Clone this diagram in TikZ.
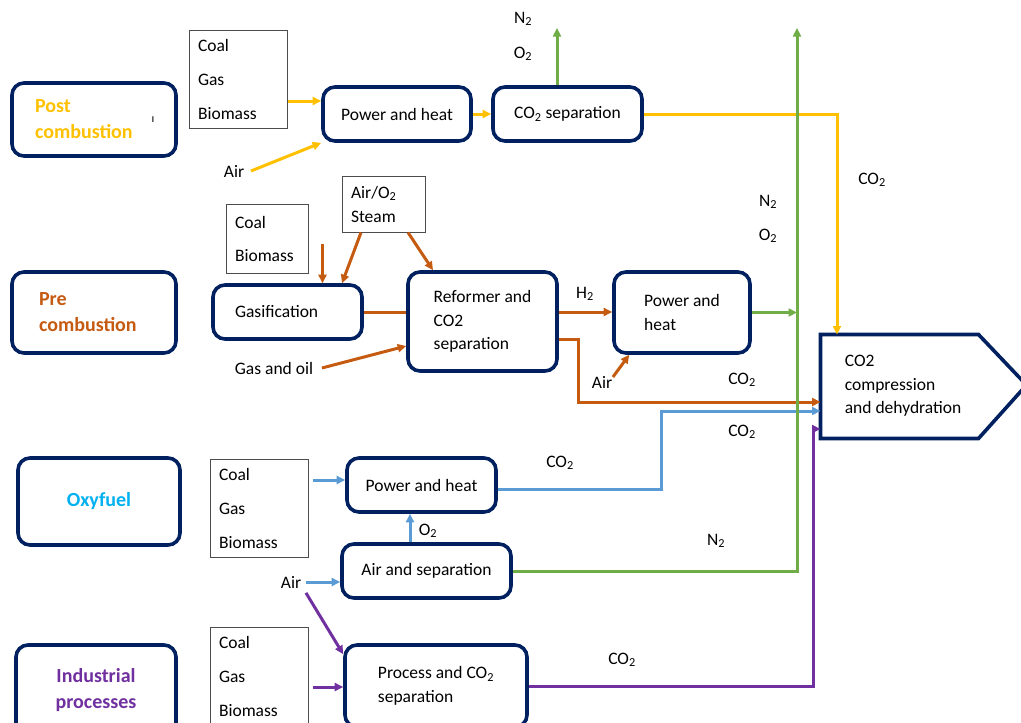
\documentclass[tikz,border=0pt]{standalone}
\usepackage{fontspec}
\setmainfont{Carlito}
\usetikzlibrary{arrows.meta}

\definecolor{navy}{HTML}{002060}
\definecolor{postc}{HTML}{FFC000}
\definecolor{prec}{HTML}{C55A11}
\definecolor{oxyc}{HTML}{00B0F0}
\definecolor{indc}{HTML}{7030A0}
\definecolor{grn}{HTML}{70AD47}
\definecolor{blu}{HTML}{5B9BD5}

\begin{document}
\begin{tikzpicture}[x=1pt,y=-1pt,>={Triangle[length=8.5pt,width=8pt]},line width=3pt,
    every node/.style={font=\fontsize{17.5}{23.5}\selectfont}]
\useasboundingbox (0,0) rectangle (1021,723);

% capture routes
\begin{scope}[every node/.append style={draw=navy,line width=3.6pt,rounded corners=12pt,font=\fontsize{20}{26}\selectfont\bfseries}]
    \node[minimum width=164pt,minimum height=73pt,text width=118pt,align=left,text=postc] (post) at (94,119.5) {Post\\combustion};
    \node[minimum width=164pt,minimum height=81pt,text width=110pt,align=left,text=prec] (pre) at (94,312.5) {Pre\\combustion};
    \node[minimum width=162pt,minimum height=87pt,align=center,text=oxyc] (oxy) at (99,501.5) {Oxyfuel};
    \node[minimum width=160pt,minimum height=90pt,align=center,text=indc] (ind) at (96,690) {Industrial\\processes};
\end{scope}
\node (stray) at (153,120) {\fontsize{12}{12}\selectfont ı};

% units
\begin{scope}[every node/.append style={draw=navy,line width=3.6pt,rounded corners=12pt,minimum height=54pt,align=left}]
    \node[minimum width=148pt] (php) at (397,114) {Power and heat};
    \node[minimum width=149pt] (sep) at (567.5,114) {CO\textsubscript{2} separation};
    \node[minimum width=149pt,text width=105pt] (gasi) at (287.5,312) {Gasification};
    \node[minimum width=149pt,minimum height=99pt] (ref) at (482.5,321.5) {Reformer and\\CO2\\separation};
    \node[minimum width=136pt,minimum height=81pt] (php2) at (682,312.5) {Power and\\heat};
    \node[minimum width=149pt] (oxph) at (421.5,485) {Power and heat};
    \node[minimum width=169pt] (asep) at (426.5,571) {Air and separation};
    \node[minimum width=182pt,minimum height=82pt] (proc) at (436,686) {Process and CO\textsubscript{2}\\separation};
\end{scope}

% compression
\node[minimum width=155pt,minimum height=101pt,inner sep=0pt] (comp) at (899.5,386.5) {};
\draw[navy,line width=3.6pt] (comp.north west) -- (comp.north east) -- ++(48,50.5) -- (comp.south east) -- (comp.south west) -- cycle;
\node[align=left,anchor=west] (comptxt) at (840,386) {CO2\\compression\\and dehydration};

% feeds
\begin{scope}[every node/.append style={draw=black!70,line width=1pt,align=left,inner xsep=9pt,font=\fontsize{17.5}{34}\selectfont}]
    \node[text width=80pt,minimum height=98pt] (fuel1) at (238,79) {Coal\\Gas\\Biomass};
    \node[text width=64pt,minimum height=69pt,font=\fontsize{17.5}{33}\selectfont] (fuel2) at (267,238.5) {Coal\\Biomass};
    \node[text width=65pt,minimum height=56pt,font=\fontsize{17.5}{24}\selectfont] (steam) at (383.5,204) {Air/O\textsubscript{2}\\Steam};
    \node[text width=80pt,minimum height=98pt] (fuel3) at (259,508) {Coal\\Gas\\Biomass};
    \node[text width=80pt,minimum height=98pt] (fuel4) at (259,676) {Coal\\Gas\\Biomass};
\end{scope}

% labels
\node (air1) at (234,171) {Air};
\node (n2a) at (523,19) {N\textsubscript{2}};
\node (o2a) at (523,54) {O\textsubscript{2}};
\node (co2a) at (872,180) {CO\textsubscript{2}};
\node (n2b) at (768,202) {N\textsubscript{2}};
\node (o2b) at (768,236) {O\textsubscript{2}};
\node (gasoil) at (274,368) {Gas and oil};
\node (h2) at (585,294) {H\textsubscript{2}};
\node (air2) at (602,382) {Air};
\node (co2b) at (742,380) {CO\textsubscript{2}};
\node (co2c) at (742,432) {CO\textsubscript{2}};
\node (co2d) at (560,463) {CO\textsubscript{2}};
\node (o2c) at (428,531) {O\textsubscript{2}};
\node (n2c) at (716,541) {N\textsubscript{2}};
\node (air3) at (291,582) {Air};
\node (co2e) at (622,660) {CO\textsubscript{2}};

\coordinate (top1) at (557,28);
\coordinate (top2) at (797,28);
\coordinate (ycol) at (837,0);

% post combustion
\draw[postc,->] ([yshift=-22pt]fuel1.east) -- ([yshift=-22pt]fuel1.east -| php.west);
\draw[postc,->] ([xshift=2pt]air1.east) -- (php.south west);
\draw[postc,->] (php.east) -- (sep.west);
\draw[grn,->] (top1 |- sep.north) -- (top1);
\draw[postc,->] (sep.east) -- (sep.east -| ycol) -- (ycol |- comp.north);

% pre combustion
\draw[prec,->] ([xshift=14pt,yshift=-5.5pt]fuel2.east) -- ([xshift=14pt]fuel2.east |- gasi.north);
\draw[prec,->] ([xshift=-22.5pt]steam.south) -- ([xshift=54.5pt]gasi.north);
\draw[prec,->] ([xshift=24.5pt]steam.south) -- ([xshift=-49.5pt]ref.north);
\draw[prec] (gasi.east) -- (gasi.east -| ref.west);
\draw[prec,->] ([xshift=4pt]gasoil.east) -- ([yshift=-24.5pt]ref.west);
\draw[prec,->] ([yshift=9.5pt]ref.east) -- ([yshift=9.5pt]ref.east -| php2.west);
\draw[prec,->] ([yshift=-17.5pt]ref.east) -- ++(20,0) |- ([yshift=-15.5pt]comp.west);
\draw[prec,->] ([xshift=-4pt,yshift=5pt]air2.east) -- ([xshift=17pt]php2.south west);

% oxyfuel
\draw[blu,->] ([xshift=4pt,yshift=28pt]fuel3.east) -- ([yshift=28pt]fuel3.east -| oxph.west);
\draw[blu,->] ([yshift=-4pt]oxph.east) -- ++(164,0) |- ([yshift=-24.5pt]comp.west);
\draw[blu,->] ([xshift=-16.5pt]asep.north) -- ([xshift=-16.5pt]asep.north |- oxph.south);
\draw[blu,->] (air3.east) -- (air3.east -| asep.west);
\draw[indc,->] (air3.south east) -- ([yshift=-11pt]proc.north west);

% industrial
\draw[indc,->] ([xshift=4pt,yshift=-11pt]fuel4.east) -- ([yshift=-11pt]fuel4.east -| proc.west);
\draw[indc,->] (proc.east) -- ++(285,0) |- ([yshift=-42.5pt]comp.west);

% nitrogen out
\draw[grn,->] (php2.east) -- (php2.east -| top2);
\draw[grn,->] (asep.east) -- (asep.east -| top2) -- (top2);

\end{tikzpicture}
\end{document}
